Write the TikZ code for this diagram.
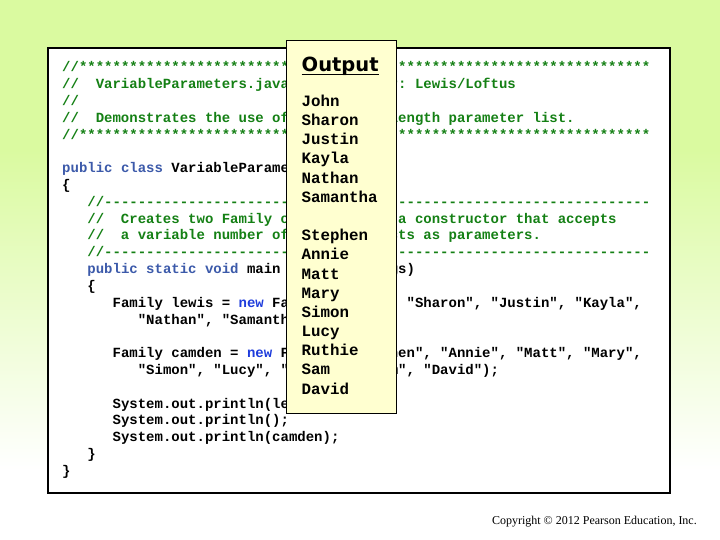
\documentclass[tikz,border=0pt]{standalone}
\usepackage{fontspec}
\setmainfont{Liberation Serif}
\setmonofont{Liberation Mono}
\newfontfamily\titlefont{DejaVu Sans}
\usepackage{tikz}
\definecolor{bggreen}{RGB}{218,250,160}
\definecolor{cmtgreen}{RGB}{20,128,20}
\definecolor{kwblue}{RGB}{60,90,170}
\definecolor{newblue}{RGB}{30,60,220}
\definecolor{outyellow}{RGB}{255,255,208}
\newlength\chw
\setlength\chw{8.4pt}
\def\gap#1{\hspace*{#1\chw}}
\def\kw#1{\textcolor{kwblue}{#1}}
\def\nw#1{\textcolor{newblue}{#1}}
\tikzset{
	code/.style={anchor=base west, inner sep=0pt, font=\ttfamily\bfseries\fontsize{14}{14}\selectfont},
	cmt/.style={code, text=cmtgreen},
	outname/.style={anchor=base west, inner sep=0pt, font=\ttfamily\bfseries\fontsize{15.8}{16}\selectfont},
}

\begin{document}
\begin{tikzpicture}[x=1pt, y=-1pt]
		%%%%% START %%%%%
		\useasboundingbox (0, 0) rectangle (720, 540);
		
		\fill[bggreen] (0, 0) rectangle (720, 150);
		\shade[top color=bggreen, bottom color=white] (0, 149.5) rectangle (720, 470);
		\fill[white] (0, 469.5) rectangle (720, 540);
		
		\draw[line width=1.2pt, fill=white] (48, 48) rectangle (670, 493);
		
		\node[cmt] (hd0) at (62, 72) {//********************************************************************};
		\node[cmt] (hd1) at (62, 88.8) {//\gap{2}VariableParameters.java\gap{7}Author: Lewis/Loftus};
		\node[cmt] (hd2) at (62, 105.6) {//};
		\node[cmt] (hd3) at (62, 122.4) {//\gap{2}Demonstrates the use of a variable-length parameter list.};
		\node[cmt] (hd4) at (62, 139.2) {//********************************************************************};
		
		\node[code] (cls) at (62, 172.8) {\kw{public class} VariableParameters};
		\node[code] (clsopen) at (62, 189.6) {\{};
		
		\node[cmt] (mc0) at (87.2, 206.4) {//-----------------------------------------------------------------};
		\node[cmt] (mc1) at (87.2, 223.2) {//\gap{2}Creates two Family objects using a constructor that accepts};
		\node[cmt] (mc2) at (87.2, 240) {//\gap{2}a variable number of String objects as parameters.};
		\node[cmt] (mc3) at (87.2, 256.8) {//-----------------------------------------------------------------};
		
		\node[code] (mainhead) at (87.2, 273.6) {\kw{public static void} main (String[] args)};
		\node[code] (mainopen) at (87.2, 290.4) {\{};
		
		\node[code] (lewis0) at (112.4, 307.2) {Family lewis = \nw{new} Family ("John", "Sharon", "Justin", "Kayla",};
		\node[code] (lewis1) at (137.6, 324) {"Nathan", "Samantha");};
		
		\node[code] (camden0) at (112.4, 357.6) {Family camden = \nw{new} Family ("Stephen", "Annie", "Matt", "Mary",};
		\node[code] (camden1) at (137.6, 374.4) {"Simon", "Lucy", "Ruthie", "Sam", "David");};
		
		\node[code] (print0) at (112.4, 408) {System.out.println(lewis);};
		\node[code] (print1) at (112.4, 424.8) {System.out.println();};
		\node[code] (print2) at (112.4, 441.6) {System.out.println(camden);};
		
		\node[code] (mainclose) at (87.2, 458.4) {\}};
		\node[code] (clsclose) at (62, 475.2) {\}};
		
		%% output window
		\draw[line width=0.8pt, fill=outyellow] (286.5, 40) rectangle (396.5, 413);
		\node[anchor=base west, inner sep=0pt, font=\titlefont\bfseries\fontsize{19.5}{20}\selectfont] (outtitle) at (301.5, 71.7) {Output};
		\draw[line width=1.6pt] ([yshift=-2.8pt]outtitle.base west) -- ([yshift=-2.8pt]outtitle.base east);
		
		\node[outname] (outJohn) at (301.5, 106.5) {John};
		\node[outname] (outSharon) at (301.5, 125.7) {Sharon};
		\node[outname] (outJustin) at (301.5, 144.8) {Justin};
		\node[outname] (outKayla) at (301.5, 164) {Kayla};
		\node[outname] (outNathan) at (301.5, 183.2) {Nathan};
		\node[outname] (outSamantha) at (301.5, 202.4) {Samantha};
		
		\node[outname] (outStephen) at (301.5, 240.7) {Stephen};
		\node[outname] (outAnnie) at (301.5, 259.9) {Annie};
		\node[outname] (outMatt) at (301.5, 279) {Matt};
		\node[outname] (outMary) at (301.5, 298.2) {Mary};
		\node[outname] (outSimon) at (301.5, 317.4) {Simon};
		\node[outname] (outLucy) at (301.5, 336.5) {Lucy};
		\node[outname] (outRuthie) at (301.5, 355.7) {Ruthie};
		\node[outname] (outSam) at (301.5, 374.9) {Sam};
		\node[outname] (outDavid) at (301.5, 394.1) {David};
		
		\node[anchor=base east, inner sep=0pt, font=\fontsize{12}{14}\selectfont] (copyright) at (697, 524) {Copyright © 2012 Pearson Education, Inc.};
		
		%%%%% END %%%%%
\end{tikzpicture}
\end{document}
